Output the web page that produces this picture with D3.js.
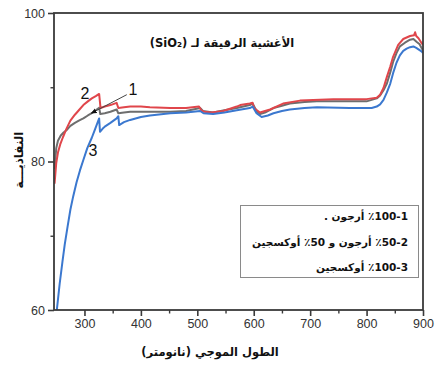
<!DOCTYPE html>
<html>
<head>
<meta charset="utf-8">
<script src="https://cdn.jsdelivr.net/npm/d3@7"></script>
<style>
  html, body { margin: 0; padding: 0; background: #fff; }
  svg { display: block; }
</style>
</head>
<body>
<svg id="chart" width="435" height="366"></svg>
<script>
// Transmittance spectra of SiO2 thin films
// 1: 100% argon, 2: 50% argon + 50% oxygen, 3: 100% oxygen
const wl1 = [247, 250, 253, 258, 263, 268, 275, 283, 290, 298, 306, 313, 320, 326, 328, 336, 346, 357, 360, 370, 381, 400, 416, 452, 480, 505, 510, 528, 548, 570, 593, 598, 605, 611, 620, 635, 650, 664, 690, 712, 760, 800, 818, 824, 830, 836, 842, 847, 853, 859, 868, 877, 883, 889, 894, 898, 900];
const t1  = [79.0, 81.8, 82.8, 83.5, 83.9, 84.2, 84.8, 85.2, 85.5, 85.8, 86.2, 86.5, 86.9, 87.25, 86.4, 86.5, 86.7, 87.0, 86.5, 86.6, 86.7, 86.7, 86.7, 86.7, 86.8, 87.2, 86.8, 86.6, 86.9, 87.2, 87.6, 87.8, 86.8, 86.4, 86.6, 87.2, 87.5, 87.8, 88.0, 88.1, 88.1, 88.1, 88.5, 88.9, 89.6, 90.5, 92.0, 93.4, 94.6, 95.5, 96.0, 96.4, 96.5, 96.1, 95.8, 95.2, 95.0];

const wl2 = [247, 250, 253, 257, 262, 268, 275, 283, 290, 298, 306, 313, 320, 326, 328.5, 336, 346, 357, 360, 370, 381, 400, 416, 452, 480, 503, 507, 512, 525, 546, 570, 576, 593, 598, 600.5, 611, 629, 652, 682, 741, 800, 818, 824, 830, 836, 842, 847, 856, 865, 877, 884, 886, 888, 892, 898, 900];
const t2  = [77.0, 79.8, 81.2, 82.3, 83.3, 84.4, 85.5, 86.3, 86.9, 87.6, 88.1, 88.5, 88.8, 89.1, 87.2, 87.4, 87.6, 87.9, 87.2, 87.3, 87.4, 87.4, 87.3, 87.2, 87.2, 87.4, 86.9, 86.7, 86.6, 86.8, 87.4, 87.6, 87.8, 87.9, 87.2, 86.6, 87.0, 87.8, 88.2, 88.4, 88.4, 88.6, 89.0, 89.9, 91.4, 92.8, 94.1, 95.7, 96.5, 96.9, 97.0, 97.4, 96.9, 96.6, 95.9, 95.7];

const wl3 = [251, 256, 261, 265, 270, 275, 280, 286, 292, 298, 305, 313, 318, 322, 326, 327.5, 332, 336, 346, 357, 360, 361.5, 370, 381, 400, 416, 452, 480, 505, 511, 528, 548, 570, 593, 598, 605, 614, 625, 635, 650, 664, 690, 712, 770, 809, 818, 824, 830, 836, 842, 847, 853, 859, 865, 871, 877, 883, 888, 892, 898, 900];
const t3  = [60.0, 63.5, 66.5, 68.8, 71.2, 73.5, 75.3, 77.2, 78.8, 80.2, 81.8, 83.2, 84.2, 85.0, 85.8, 84.0, 84.4, 84.7, 85.2, 85.8, 86.1, 84.9, 85.3, 85.6, 86.0, 86.2, 86.5, 86.6, 86.8, 86.5, 86.4, 86.6, 86.9, 87.2, 87.4, 86.5, 86.0, 86.2, 86.5, 86.8, 87.0, 87.2, 87.3, 87.2, 87.2, 87.4, 87.7, 88.3, 89.3, 90.5, 91.9, 93.3, 94.3, 94.9, 95.2, 95.4, 95.5, 95.3, 95.1, 94.8, 94.6];

const seriesColors = ["#6e6e6e", "#e0464b", "#3b78cf"];

const xMajorTicks = [300, 400, 500, 600, 700, 800, 900];
const xMinorTicks = [350, 450, 550, 650, 750, 850];
const yMajorTicks = [60, 80, 100];
const yMinorTicks = [70, 90];

const titleText = "الأغشية الرقيقة لـ (SiO₂)";
const xTitle = "الطول الموجي (نانومتر)";
const yTitle = "النفاذيـــة";
// RLM marks keep the item number on the right of each line
const legendLines = [
  "1\u200F-100\u200F٪ أرجون .",
  "2\u200F-50\u200F٪ أرجون و 50\u200F٪ أوكسجين",
  "3\u200F-100\u200F٪ أوكسجين"
];
// curve labels: [text, wavelength, transmittance]
const curveLabels = [["1", 386, 89.7], ["2", 301, 89.2], ["3", 315, 81.5]];
// arrow for curve 1: from near its label to the curve
const arrowFrom = [375, 89.0];
const arrowTo = [312, 86.5];

const svg = d3.select("#chart");
const pLeft = 54, pRight = 423, pTop = 13, pBottom = 310;

const x = d3.scaleLinear().domain([246, 900]).range([pLeft, pRight]);
const y = d3.scaleLinear().domain([60, 100]).range([pBottom, pTop]);

const axisColor = "#3a3a3a";
const tickFont = "'Liberation Sans', Arial, sans-serif";
const arFont = "'DejaVu Sans', sans-serif";

// x axis major ticks and labels
const gx = svg.append("g").attr("transform", `translate(0,${pBottom})`)
  .call(d3.axisBottom(x).tickValues(xMajorTicks).tickSize(6).tickPadding(3).tickFormat(d3.format("d")));
gx.select(".domain").remove();
gx.selectAll("line").attr("stroke", axisColor).attr("stroke-width", 1.6);
gx.selectAll("text").attr("font-family", tickFont).attr("font-size", 12.5).attr("fill", "#333");

const gxm = svg.append("g").attr("transform", `translate(0,${pBottom})`)
  .call(d3.axisBottom(x).tickValues(xMinorTicks).tickSize(3.5).tickFormat(""));
gxm.select(".domain").remove();
gxm.selectAll("line").attr("stroke", axisColor).attr("stroke-width", 1.4);

// y axis
const gy = svg.append("g").attr("transform", `translate(${pLeft},0)`)
  .call(d3.axisLeft(y).tickValues(yMajorTicks).tickSize(6).tickPadding(3).tickFormat(d3.format("d")));
gy.select(".domain").remove();
gy.selectAll("line").attr("stroke", axisColor).attr("stroke-width", 1.6);
gy.selectAll("text").attr("font-family", tickFont).attr("font-size", 12.5).attr("fill", "#333");

const gym = svg.append("g").attr("transform", `translate(${pLeft},0)`)
  .call(d3.axisLeft(y).tickValues(yMinorTicks).tickSize(3.5).tickFormat(""));
gym.select(".domain").remove();
gym.selectAll("line").attr("stroke", axisColor).attr("stroke-width", 1.4);

// spectra
const line = d3.line().x(d => x(d[0])).y(d => y(d[1]));
const series = [d3.zip(wl1, t1), d3.zip(wl2, t2), d3.zip(wl3, t3)];
const defs = svg.append("defs");
defs.append("clipPath").attr("id", "plotClip")
  .append("rect").attr("x", pLeft).attr("y", pTop).attr("width", pRight - pLeft).attr("height", pBottom - pTop);
const gLines = svg.append("g").attr("clip-path", "url(#plotClip)");
// grey first, then red, then blue
[0, 1, 2].forEach(i => {
  gLines.append("path").datum(series[i])
    .attr("fill", "none")
    .attr("stroke", seriesColors[i])
    .attr("stroke-width", 2)
    .attr("stroke-linejoin", "round")
    .attr("d", line);
});

// plot frame
svg.append("rect").attr("x", pLeft).attr("y", pTop)
  .attr("width", pRight - pLeft).attr("height", pBottom - pTop)
  .attr("fill", "none").attr("stroke", axisColor).attr("stroke-width", 1.8);

// title
svg.append("text").attr("x", 222).attr("y", 43)
  .attr("text-anchor", "middle").attr("dominant-baseline", "central")
  .attr("direction", "rtl")
  .attr("font-family", arFont).attr("font-weight", "bold").attr("font-size", 11.5)
  .attr("fill", "#111").text(titleText);

// axis titles
svg.append("text").attr("x", 210).attr("y", 352)
  .attr("text-anchor", "middle").attr("dominant-baseline", "central")
  .attr("direction", "rtl")
  .attr("font-family", arFont).attr("font-weight", "bold").attr("font-size", 11.5)
  .attr("fill", "#111").text(xTitle);

svg.append("text")
  .attr("transform", "translate(19,160) rotate(-90)")
  .attr("text-anchor", "middle").attr("dominant-baseline", "central")
  .attr("direction", "rtl")
  .attr("font-family", arFont).attr("font-weight", "bold").attr("font-size", 12)
  .attr("fill", "#111").text(yTitle);

// legend box
svg.append("rect").attr("x", 240.5).attr("y", 205.5).attr("width", 178).attr("height", 72)
  .attr("fill", "#fff").attr("stroke", "#8a8a8a").attr("stroke-width", 1);
legendLines.forEach((t, i) => {
  svg.append("text").attr("x", 408).attr("y", 216 + i * 25.5)
    .attr("text-anchor", "start").attr("dominant-baseline", "central")
    .attr("direction", "rtl")
    .attr("font-family", arFont).attr("font-weight", "bold").attr("font-size", 10.5)
    .attr("fill", "#111").text(t);
});

// curve labels and arrow
defs.append("marker").attr("id", "arrowHead")
  .attr("viewBox", "0 0 10 10").attr("refX", 9).attr("refY", 5)
  .attr("markerWidth", 6).attr("markerHeight", 6).attr("orient", "auto")
  .append("path").attr("d", "M0,1 L10,5 L0,9 Z").attr("fill", "#111");
svg.append("line")
  .attr("x1", x(arrowFrom[0])).attr("y1", y(arrowFrom[1]))
  .attr("x2", x(arrowTo[0])).attr("y2", y(arrowTo[1]))
  .attr("stroke", "#444").attr("stroke-width", 1)
  .attr("marker-end", "url(#arrowHead)");
curveLabels.forEach(([t, wx, ty]) => {
  svg.append("text").attr("x", x(wx)).attr("y", y(ty))
    .attr("text-anchor", "middle").attr("dominant-baseline", "central")
    .attr("font-family", tickFont).attr("font-size", 16).attr("fill", "#111")
    .text(t);
});
</script>
</body>
</html>
